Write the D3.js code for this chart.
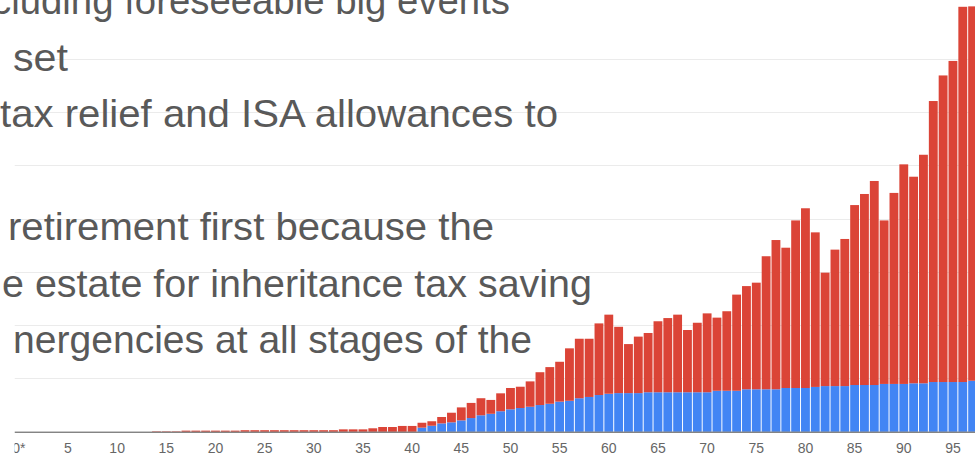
<!DOCTYPE html>
<html>
<head>
<meta charset="utf-8">
<script src="https://cdn.jsdelivr.net/npm/d3@7"></script>
<style>
  body { margin: 0; background: #fff; }
  svg { display: block; }
</style>
</head>
<body>
<svg id="chart"></svg>
<script>
// ages on the x axis, 0..97
const ages = d3.range(0, 98);

// blue series (bottom of stack), £k
const pensionPot = [
  0,0,0,0,0,0,0,0,0,0,
  0,0,0,0,0,0,0,0,0,0,
  0,0,0,0,0,0,0,0,0,0,
  0,0,0,0,0,0,0,0,0,0,
  0,19,28,39,44,53,64,77,84,96,
  105,111,117,125,131,141,145,157,163,172,
  178,181,181,181,185,185,185,185,185,185,
  185,192,192,192,199,199,199,199,205,205,
  205,210,214,214,214,219,219,219,224,224,
  224,227,227,233,233,233,233,239
];

// red series (top of stack), £k
const otherSavings = [
  0,0,0,0,0,0,0,0,0,0,
  0,0,0,0,2,2,2,5,5,5,
  5,5,5,7,7,7,7,7,7,7,
  7,7,7,11,11,11,16,22,22,27,
  27,23,21,30,45,61,71,80,65,84,
  100,100,119,154,172,187,246,279,273,336,
  371,311,230,265,278,333,348,364,292,326,
  370,343,373,451,484,500,624,700,658,786,
  843,725,532,640,690,844,896,957,767,896,
  1030,969,1072,1318,1438,1506,1760,1756
];

const xTickAges = d3.range(0, 96, 5);
const xTickLabels = xTickAges.map(a => a === 0 ? "0*" : String(a));
const yGridValues = [250, 500, 750, 1000, 1250, 1500, 1750];

// slide text sitting over the chart (only the visible part)
const overlayLines = [
  "cluding foreseeable big events",
  "set",
  "tax relief and ISA allowances to",
  "",
  "retirement first because the",
  "e estate for inheritance tax saving",
  "nergencies at all stages of the"
];

// layout of the overlay lines: left / right edge in px
const overlayLeft  = [-8, 13, 0, 0, 8, 2, 13];
const overlayRight = [510, 68, 558, 0, 494, 592, 532];

const width = 975, height = 456;
const margin = { top: 5.3, left: 13.4, bottom: 24.3 };
const plotBottom = height - margin.bottom;

const svg = d3.select("#chart")
  .attr("width", width)
  .attr("height", height);

svg.append("clipPath")
  .attr("id", "plotClip")
  .append("rect")
  .attr("x", 14.5).attr("y", 0)
  .attr("width", width - 14.5).attr("height", height);

const chart = svg.append("g").attr("clip-path", "url(#plotClip)");

const x = d3.scaleBand()
  .domain(ages)
  .range([margin.left, margin.left + 9.833 * (ages.length + 0.1)])
  .padding(0.1);

const y = d3.scaleLinear()
  .domain([0, 2000])
  .range([plotBottom, margin.top]);

// gridlines
chart.append("g")
  .selectAll("line")
  .data(yGridValues)
  .join("line")
  .attr("x1", 14.5)
  .attr("x2", width)
  .attr("y1", d => Math.round(y(d)) + 0.5)
  .attr("y2", d => Math.round(y(d)) + 0.5)
  .attr("stroke", "#ebebeb")
  .attr("stroke-width", 1);

const table = ages.map((a, i) => ({ age: a, pension: pensionPot[i], other: otherSavings[i] }));
const stacked = d3.stack().keys(["pension", "other"])(table);
const colors = { pension: "#4285f4", other: "#db4437" };

chart.append("g")
  .selectAll("g")
  .data(stacked)
  .join("g")
  .attr("fill", d => colors[d.key])
  .selectAll("rect")
  .data(d => d)
  .join("rect")
  .attr("x", d => x(d.data.age))
  .attr("width", x.bandwidth())
  .attr("y", d => y(d[1]))
  .attr("height", d => Math.max(0, y(d[0]) - y(d[1])));

// x axis
const xAxis = d3.axisBottom(x)
  .tickValues(xTickAges)
  .tickSize(0)
  .tickPadding(11)
  .tickFormat((d, i) => xTickLabels[i]);

const gx = chart.append("g")
  .attr("transform", `translate(0,${plotBottom})`)
  .call(xAxis);

gx.select(".domain")
  .attr("d", `M14.5,0.5H${width}`)
  .attr("stroke", "#4d4d4d");

gx.selectAll("text")
  .attr("font-family", "'Liberation Sans', Arial, sans-serif")
  .attr("font-size", 14)
  .attr("fill", "#666");

// overlay text
svg.append("g")
  .selectAll("text")
  .data(overlayLines)
  .join("text")
  .attr("x", (d, i) => overlayLeft[i])
  .attr("y", (d, i) => 14 + i * 56.5)
  .attr("font-family", "'Liberation Sans', Arial, sans-serif")
  .attr("font-size", 39.6)
  .attr("fill", "#595959")
  .attr("textLength", (d, i) => d ? overlayRight[i] - overlayLeft[i] : null)
  .attr("lengthAdjust", "spacingAndGlyphs")
  .text(d => d);
</script>
</body>
</html>
